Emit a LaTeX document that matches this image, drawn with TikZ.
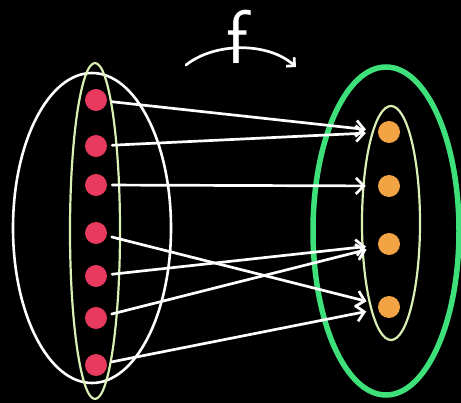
\documentclass[tikz,border=0pt]{standalone}
\usetikzlibrary{arrows.meta}
\definecolor{dotred}{HTML}{E83A5E}
\definecolor{dotorange}{HTML}{F2A444}
\definecolor{setgreen}{HTML}{3EE07A}
\definecolor{palegreen}{HTML}{D9F0B4}
\tikzset{
  reddot/.style={circle,fill=dotred,minimum size=22pt,inner sep=0pt},
  orangedot/.style={circle,fill=dotorange,minimum size=22pt,inner sep=0pt},
  mapline/.style={white,line width=2.7pt,line cap=round,-{Straight Barb[length=8pt,width=16pt,line width=2.7pt]},shorten <=5pt,shorten >=12pt},
  outerset/.style={white,line width=2.6pt},
  innerset/.style={palegreen,line width=2.2pt},
  codomain/.style={setgreen,line width=5.5pt}
}
\begin{document}
\begin{tikzpicture}[x=1pt,y=-1pt]
\fill[black] (0,0) rectangle (461,403);
\useasboundingbox (0,0) rectangle (461,403);
% sets
\draw[outerset] (92,228) ellipse [x radius=79, y radius=155];
\draw[innerset] (95,231) ellipse [x radius=25, y radius=168];
\draw[codomain] (386,231) ellipse [x radius=73, y radius=164];
\draw[innerset] (391,223) ellipse [x radius=29, y radius=117];
% domain points
\node[reddot] (l1) at (96,100) {};
\node[reddot] (l2) at (96,146) {};
\node[reddot] (l3) at (96,185) {};
\node[reddot] (l4) at (96,233) {};
\node[reddot] (l5) at (96,276) {};
\node[reddot] (l6) at (96,318) {};
\node[reddot] (l7) at (96,365) {};
% codomain points
\node[orangedot] (r1) at (389,132) {};
\node[orangedot] (r2) at (389,186) {};
\node[orangedot] (r3) at (389,244) {};
\node[orangedot] (r4) at (389,307) {};
% mapping
\draw[mapline] (l1) -- (r1);
\draw[mapline] (l2) -- (r1);
\draw[mapline] (l3) -- (r2);
\draw[mapline] (l4) -- (r4);
\draw[mapline] (l5) -- (r3);
\draw[mapline] (l6) -- (r3);
\draw[mapline] (l7) -- (r4);
% function label
\coordinate (fa) at (186,65);
\coordinate (fb) at (296,67);
\draw[white,line width=2.7pt,line cap=round,-{Straight Barb[length=6pt,width=12pt,line width=2.7pt]}] (fa) .. controls (215,42) and (268,42) .. (fb);
\node[white,inner sep=0pt,font=\fontsize{76}{76}\sffamily] (f) at (237,37) {f};
\end{tikzpicture}
\end{document}
